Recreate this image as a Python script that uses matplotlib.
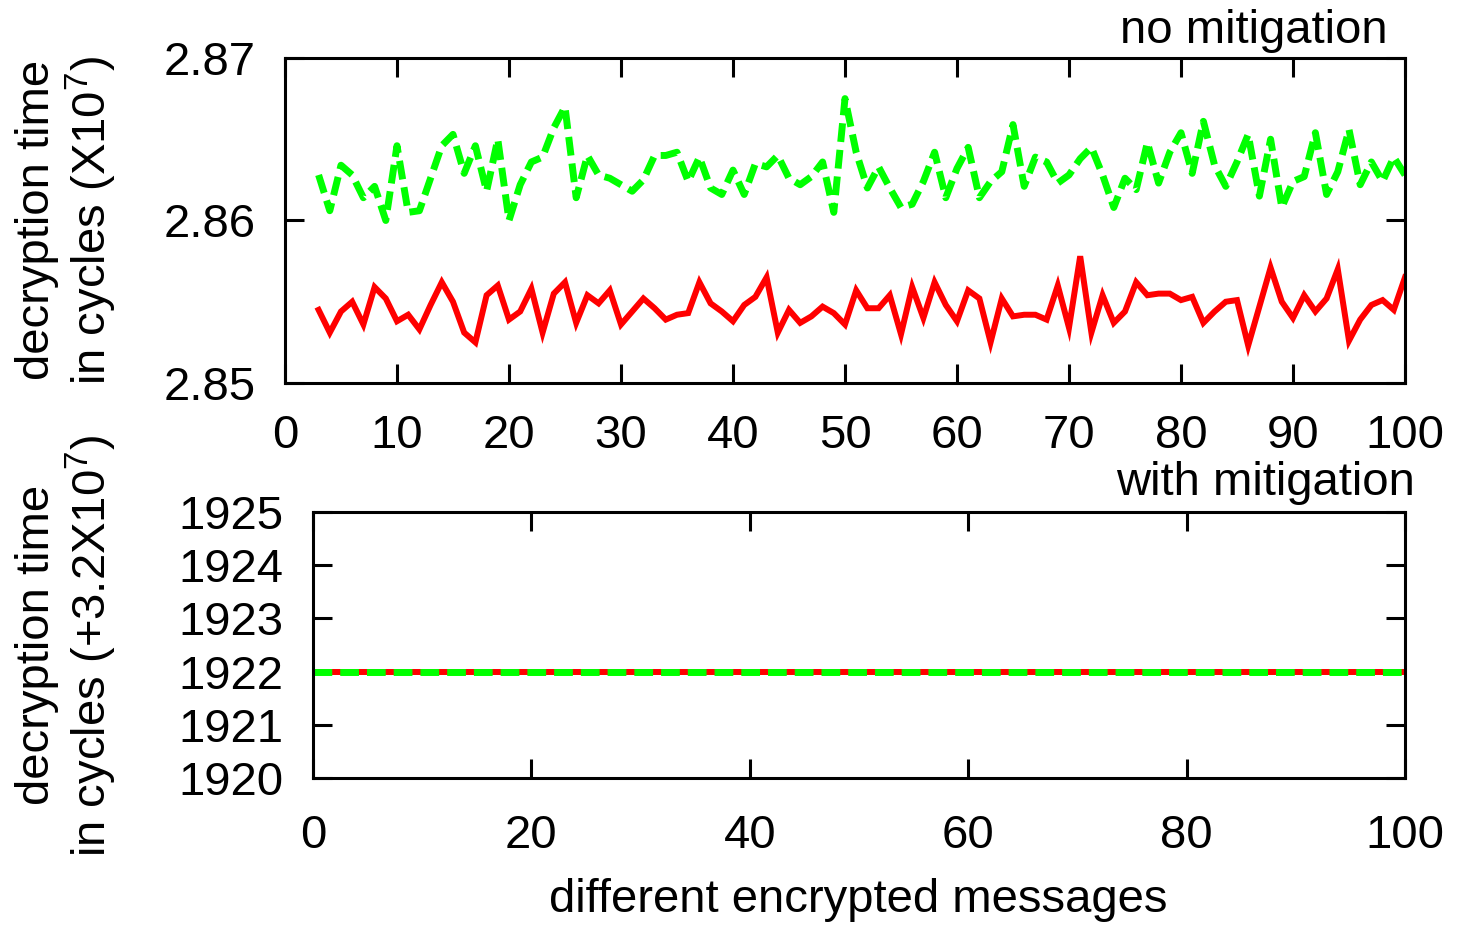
import numpy as np
import matplotlib
matplotlib.use("Agg")
import matplotlib.pyplot as plt

plt.rcParams['font.family'] = ['Liberation Sans', 'DejaVu Sans']
plt.rcParams['mathtext.default'] = 'regular'

# message index (top panel)
msg_idx = list(range(3, 101))

# decryption time, no mitigation (x 10^7 cycles)
no_mitig_red = [
    2.8545, 2.8531, 2.8544, 2.8550, 2.8536, 2.8559, 2.8552, 2.8538, 2.8542, 2.8533,
    2.8548, 2.8562, 2.8550, 2.8531, 2.8525, 2.8554, 2.8560, 2.8539, 2.8544, 2.8558,
    2.8531, 2.8555, 2.8562, 2.8537, 2.8554, 2.8549, 2.8557, 2.8536, 2.8544, 2.8552,
    2.8546, 2.8539, 2.8542, 2.8543, 2.8562, 2.8549, 2.8544, 2.8538, 2.8548, 2.8553,
    2.8565, 2.8531, 2.8545, 2.8537, 2.8541, 2.8547, 2.8543, 2.8536, 2.8557, 2.8546,
    2.8546, 2.8554, 2.8530, 2.8559, 2.8540, 2.8562, 2.8548, 2.8538, 2.8557, 2.8552,
    2.8525, 2.8552, 2.8541, 2.8542, 2.8542, 2.8539, 2.8560, 2.8534, 2.8578, 2.8531,
    2.8554, 2.8537, 2.8544, 2.8562, 2.8554, 2.8555, 2.8555, 2.8551, 2.8553, 2.8537,
    2.8544, 2.8550, 2.8551, 2.8523, 2.8547, 2.8571, 2.8550, 2.8540, 2.8554, 2.8544,
    2.8552, 2.8570, 2.8526, 2.8539, 2.8548, 2.8551, 2.8545, 2.8565,
]
no_mitig_green = [
    2.8628, 2.8606, 2.8634, 2.8628, 2.8614, 2.8621, 2.8600, 2.8646, 2.8605, 2.8606,
    2.8626, 2.8646, 2.8653, 2.8629, 2.8646, 2.8618, 2.8650, 2.8600, 2.8622, 2.8636,
    2.8639, 2.8657, 2.8670, 2.8614, 2.8640, 2.8628, 2.8626, 2.8622, 2.8618, 2.8625,
    2.8640, 2.8640, 2.8642, 2.8624, 2.8639, 2.8620, 2.8616, 2.8631, 2.8616, 2.8635,
    2.8633, 2.8640, 2.8626, 2.8622, 2.8627, 2.8636, 2.8605, 2.8675, 2.8642, 2.8620,
    2.8633, 2.8620, 2.8608, 2.8610, 2.8624, 2.8642, 2.8614, 2.8632, 2.8645, 2.8614,
    2.8624, 2.8630, 2.8659, 2.8621, 2.8639, 2.8636, 2.8623, 2.8628, 2.8638, 2.8645,
    2.8628, 2.8608, 2.8626, 2.8619, 2.8648, 2.8623, 2.8642, 2.8654, 2.8629, 2.8661,
    2.8634, 2.8621, 2.8636, 2.8653, 2.8615, 2.8650, 2.8608, 2.8624, 2.8627, 2.8654,
    2.8616, 2.8630, 2.8656, 2.8622, 2.8636, 2.8624, 2.8639, 2.8628,
]

# with mitigation (+3.2 x 10^7 cycles): flat
mitig_idx = [0, 100]
mitig_red = [1922, 1922]
mitig_green = [1922, 1922]

top_xticks = list(range(0, 101, 10))
top_yticks = [2.85, 2.86, 2.87]
bot_xticks = list(range(0, 101, 20))
bot_yticks = [1920, 1921, 1922, 1923, 1924, 1925]

RED = '#ff0000'
GREEN = '#00ff00'
FS = 34


def style_axes(ax):
    for s in ax.spines.values():
        s.set_linewidth(2.2)
    ax.tick_params(direction='in', length=14, width=2.2, top=True, right=True,
                   labelsize=FS)
    ax.tick_params(axis='y', pad=21)
    ax.tick_params(axis='x', pad=22)


fig = plt.figure(figsize=(14.57, 9.26), dpi=100)

# top panel
ax1 = fig.add_axes([0.1956, 0.5864, 0.7687, 0.3510])
ax1.plot(msg_idx, no_mitig_red, color=RED, lw=4.3, solid_joinstyle='miter')
ax1.plot(msg_idx, no_mitig_green, color=GREEN, lw=5, dashes=(2.7, 1.15))
ax1.set_xlim(0, 100)
ax1.set_ylim(2.85, 2.87)
ax1.set_xticks(top_xticks)
ax1.set_yticks(top_yticks)
ax1.set_yticklabels(['%.2f' % v for v in top_yticks])
style_axes(ax1)
fig.text(0.9526, 0.966, 'no mitigation', fontsize=FS, ha='right', va='center')
fig.text(0.046, 0.762, 'decryption time\nin cycles (X10$^7$)', fontsize=FS,
         rotation=90, ha='center', va='center', multialignment='center',
         linespacing=1.1)

# bottom panel
ax2 = fig.add_axes([0.2148, 0.1598, 0.7495, 0.2873])
ax2.plot(mitig_idx, mitig_red, color=RED, lw=4.3)
ax2.plot(mitig_idx, mitig_green, color=GREEN, lw=5, dashes=(2.7, 1.15))
ax2.set_xlim(0, 100)
ax2.set_ylim(1920, 1925)
ax2.set_xticks(bot_xticks)
ax2.set_yticks(bot_yticks)
style_axes(ax2)
ax2.tick_params(axis='x', pad=26)
fig.text(0.9712, 0.478, 'with mitigation', fontsize=FS, ha='right', va='center')
fig.text(0.046, 0.303, 'decryption time\nin cycles (+3.2X10$^7$)', fontsize=FS,
         rotation=90, ha='center', va='center', multialignment='center',
         linespacing=1.1)
fig.text(0.589, 0.028, 'different encrypted messages', fontsize=FS,
         ha='center', va='center')

fig.savefig('out.png', dpi=100)
